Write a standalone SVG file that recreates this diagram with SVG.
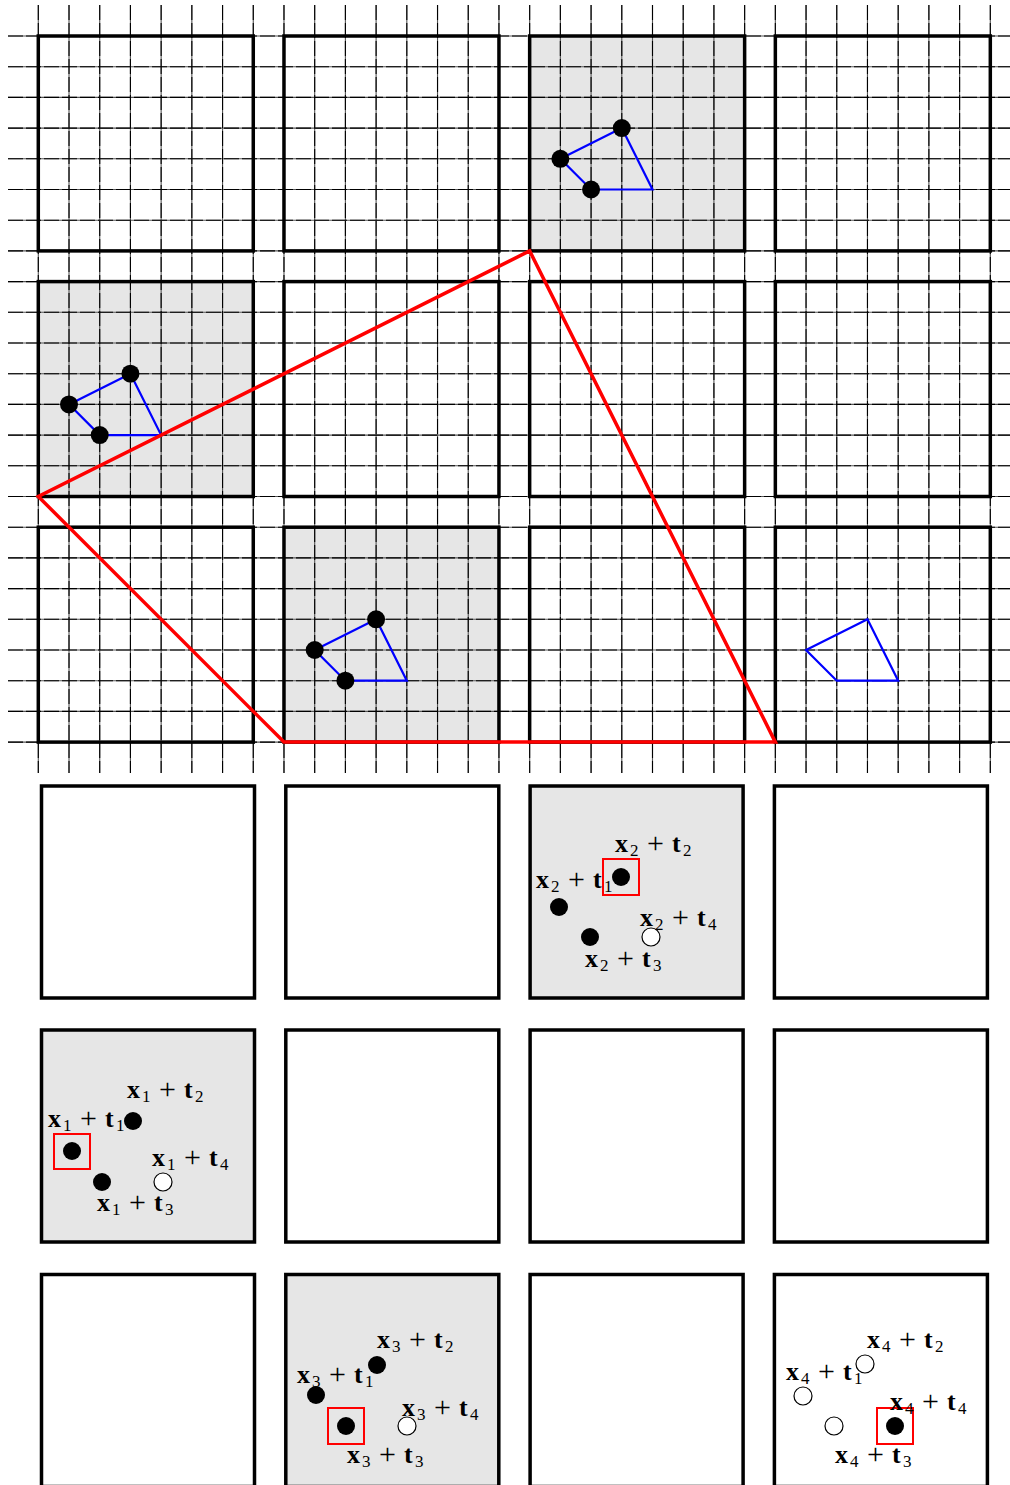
<svg xmlns="http://www.w3.org/2000/svg" width="1010" height="1485" viewBox="0 0 1010 1485">
<style>
.bg{fill:#fff}
.box{fill:none;stroke:#000;stroke-width:3.5}
.gbox{fill:#e6e6e6;stroke:#000;stroke-width:3.5}
.g{fill:#e6e6e6}
.gridbase{fill:none;stroke:#555;stroke-width:1.1}
.grid{fill:none;stroke:#000;stroke-width:1.1;stroke-dasharray:15 3}
.tri{fill:none;stroke:#f00;stroke-width:3.5;stroke-linejoin:miter}
.poly{fill:none;stroke:#00f;stroke-width:2.2}
.dot{fill:#000}
.odot{fill:#fff;stroke:#000;stroke-width:1.2}
.sel{fill:none;stroke:#f00;stroke-width:2}
.l{font-family:"Liberation Serif","Times New Roman",serif;font-size:26px;fill:#000}
.b{font-weight:bold}
.s{font-size:17px}
.p{font-size:30px}
</style>
<rect class="bg" x="0" y="0" width="1010" height="1485"/>
<g id="top-panel">
<rect class="g" x="529.66" y="36" width="214.97" height="214.9"/>
<rect class="g" x="38.3" y="281.6" width="214.97" height="214.9"/>
<rect class="g" x="283.98" y="527.2" width="214.97" height="214.9"/>
<path id="grid-base" class="gridbase" d="M38.3 5V773M69.01 5V773M99.72 5V773M130.43 5V773M161.14 5V773M191.85 5V773M222.56 5V773M253.27 5V773M283.98 5V773M314.69 5V773M345.4 5V773M376.11 5V773M406.82 5V773M437.53 5V773M468.24 5V773M498.95 5V773M529.66 5V773M560.37 5V773M591.08 5V773M621.79 5V773M652.5 5V773M683.21 5V773M713.92 5V773M744.63 5V773M775.34 5V773M806.05 5V773M836.76 5V773M867.47 5V773M898.18 5V773M928.89 5V773M959.6 5V773M990.31 5V773M8 36H1010M8 66.7H1010M8 97.4H1010M8 128.1H1010M8 158.8H1010M8 189.5H1010M8 220.2H1010M8 250.9H1010M8 281.6H1010M8 312.3H1010M8 343H1010M8 373.7H1010M8 404.4H1010M8 435.1H1010M8 465.8H1010M8 496.5H1010M8 527.2H1010M8 557.9H1010M8 588.6H1010M8 619.3H1010M8 650H1010M8 680.7H1010M8 711.4H1010M8 742.1H1010"/>
<path id="grid" class="grid" d="M38.3 5V773M69.01 5V773M99.72 5V773M130.43 5V773M161.14 5V773M191.85 5V773M222.56 5V773M253.27 5V773M283.98 5V773M314.69 5V773M345.4 5V773M376.11 5V773M406.82 5V773M437.53 5V773M468.24 5V773M498.95 5V773M529.66 5V773M560.37 5V773M591.08 5V773M621.79 5V773M652.5 5V773M683.21 5V773M713.92 5V773M744.63 5V773M775.34 5V773M806.05 5V773M836.76 5V773M867.47 5V773M898.18 5V773M928.89 5V773M959.6 5V773M990.31 5V773M8 36H1010M8 66.7H1010M8 97.4H1010M8 128.1H1010M8 158.8H1010M8 189.5H1010M8 220.2H1010M8 250.9H1010M8 281.6H1010M8 312.3H1010M8 343H1010M8 373.7H1010M8 404.4H1010M8 435.1H1010M8 465.8H1010M8 496.5H1010M8 527.2H1010M8 557.9H1010M8 588.6H1010M8 619.3H1010M8 650H1010M8 680.7H1010M8 711.4H1010M8 742.1H1010"/>
<g id="tb-r0">
<rect class="box" x="38.3" y="36" width="214.97" height="214.9"/>
<rect class="box" x="283.98" y="36" width="214.97" height="214.9"/>
<rect class="box" x="529.66" y="36" width="214.97" height="214.9"/>
<rect class="box" x="775.34" y="36" width="214.97" height="214.9"/>
</g>
<g id="tb-r1">
<rect class="box" x="38.3" y="281.6" width="214.97" height="214.9"/>
<rect class="box" x="283.98" y="281.6" width="214.97" height="214.9"/>
<rect class="box" x="529.66" y="281.6" width="214.97" height="214.9"/>
<rect class="box" x="775.34" y="281.6" width="214.97" height="214.9"/>
</g>
<g id="tb-r2">
<rect class="box" x="38.3" y="527.2" width="214.97" height="214.9"/>
<rect class="box" x="283.98" y="527.2" width="214.97" height="214.9"/>
<rect class="box" x="529.66" y="527.2" width="214.97" height="214.9"/>
<rect class="box" x="775.34" y="527.2" width="214.97" height="214.9"/>
</g>
<g id="polys">
<polygon class="poly" points="560.37,158.8 621.79,128.1 652.5,189.5 591.08,189.5"/>
<polygon class="poly" points="69.01,404.4 130.43,373.7 161.14,435.1 99.72,435.1"/>
<polygon class="poly" points="314.69,650 376.11,619.3 406.82,680.7 345.4,680.7"/>
<polygon class="poly" points="806.05,650 867.47,619.3 898.18,680.7 836.76,680.7"/>
</g>
<polygon id="triangle" class="tri" points="529.66,250.9 38.3,496.5 283.98,742.1 775.34,742.1"/>
<g id="top-dots">
<circle class="dot" cx="560.37" cy="158.8" r="9"/>
<circle class="dot" cx="621.79" cy="128.1" r="9"/>
<circle class="dot" cx="591.08" cy="189.5" r="9"/>
<circle class="dot" cx="69.01" cy="404.4" r="9"/>
<circle class="dot" cx="130.43" cy="373.7" r="9"/>
<circle class="dot" cx="99.72" cy="435.1" r="9"/>
<circle class="dot" cx="314.69" cy="650" r="9"/>
<circle class="dot" cx="376.11" cy="619.3" r="9"/>
<circle class="dot" cx="345.4" cy="680.7" r="9"/>
</g>
</g>
<g id="lower-r0">
<rect id="b00" class="box" x="41.5" y="786" width="213" height="212"/>
<rect id="b01" class="box" x="285.8" y="786" width="213" height="212"/>
<g id="b02">
<rect class="gbox" x="530.1" y="786" width="213" height="212"/>
<rect class="sel" x="603" y="859" width="36" height="36"/>
<circle class="dot" cx="621" cy="877" r="9"/>
<circle class="dot" cx="559" cy="907" r="9"/>
<circle class="dot" cx="590" cy="937" r="9"/>
<circle class="odot" cx="651" cy="937" r="9"/>
<text class="l"><tspan class="b" x="615" y="852">x</tspan><tspan class="s" x="630" y="856">2</tspan><tspan class="p" x="647" y="853">+</tspan><tspan class="b" x="672" y="852">t</tspan><tspan class="s" x="683" y="856">2</tspan></text>
<text class="l"><tspan class="b" x="536" y="888">x</tspan><tspan class="s" x="551" y="892">2</tspan><tspan class="p" x="568" y="889">+</tspan><tspan class="b" x="593" y="888">t</tspan><tspan class="s" x="604" y="892">1</tspan></text>
<text class="l"><tspan class="b" x="640" y="926">x</tspan><tspan class="s" x="655" y="930">2</tspan><tspan class="p" x="672" y="927">+</tspan><tspan class="b" x="697" y="926">t</tspan><tspan class="s" x="708" y="930">4</tspan></text>
<text class="l"><tspan class="b" x="585" y="967">x</tspan><tspan class="s" x="600" y="971">2</tspan><tspan class="p" x="617" y="968">+</tspan><tspan class="b" x="642" y="967">t</tspan><tspan class="s" x="653" y="971">3</tspan></text>
</g>
<rect id="b03" class="box" x="774.4" y="786" width="213" height="212"/>
</g>
<g id="lower-r1">
<g id="b10">
<rect class="gbox" x="41.5" y="1030" width="213" height="212"/>
<rect class="sel" x="54" y="1134" width="36" height="35"/>
<circle class="dot" cx="133" cy="1121" r="9"/>
<circle class="dot" cx="72" cy="1151" r="9"/>
<circle class="dot" cx="102" cy="1182" r="9"/>
<circle class="odot" cx="163" cy="1182" r="9"/>
<text class="l"><tspan class="b" x="127" y="1098">x</tspan><tspan class="s" x="142" y="1102">1</tspan><tspan class="p" x="159" y="1099">+</tspan><tspan class="b" x="184" y="1098">t</tspan><tspan class="s" x="195" y="1102">2</tspan></text>
<text class="l"><tspan class="b" x="48" y="1127">x</tspan><tspan class="s" x="63" y="1131">1</tspan><tspan class="p" x="80" y="1128">+</tspan><tspan class="b" x="105" y="1127">t</tspan><tspan class="s" x="116" y="1131">1</tspan></text>
<text class="l"><tspan class="b" x="152" y="1166">x</tspan><tspan class="s" x="167" y="1170">1</tspan><tspan class="p" x="184" y="1167">+</tspan><tspan class="b" x="209" y="1166">t</tspan><tspan class="s" x="220" y="1170">4</tspan></text>
<text class="l"><tspan class="b" x="97" y="1211">x</tspan><tspan class="s" x="112" y="1215">1</tspan><tspan class="p" x="129" y="1212">+</tspan><tspan class="b" x="154" y="1211">t</tspan><tspan class="s" x="165" y="1215">3</tspan></text>
</g>
<rect id="b11" class="box" x="285.8" y="1030" width="213" height="212"/>
<rect id="b12" class="box" x="530.1" y="1030" width="213" height="212"/>
<rect id="b13" class="box" x="774.4" y="1030" width="213" height="212"/>
</g>
<g id="lower-r2">
<rect id="b20" class="box" x="41.5" y="1274.5" width="213" height="212"/>
<g id="b21">
<rect class="gbox" x="285.8" y="1274.5" width="213" height="212"/>
<rect class="sel" x="328" y="1408" width="36" height="36"/>
<circle class="dot" cx="377" cy="1365" r="9"/>
<circle class="dot" cx="316" cy="1395" r="9"/>
<circle class="dot" cx="346" cy="1426" r="9"/>
<circle class="odot" cx="407" cy="1426" r="9"/>
<text class="l"><tspan class="b" x="377" y="1348">x</tspan><tspan class="s" x="392" y="1352">3</tspan><tspan class="p" x="409" y="1349">+</tspan><tspan class="b" x="434" y="1348">t</tspan><tspan class="s" x="445" y="1352">2</tspan></text>
<text class="l"><tspan class="b" x="297" y="1383">x</tspan><tspan class="s" x="312" y="1387">3</tspan><tspan class="p" x="329" y="1384">+</tspan><tspan class="b" x="354" y="1383">t</tspan><tspan class="s" x="365" y="1387">1</tspan></text>
<text class="l"><tspan class="b" x="402" y="1416">x</tspan><tspan class="s" x="417" y="1420">3</tspan><tspan class="p" x="434" y="1417">+</tspan><tspan class="b" x="459" y="1416">t</tspan><tspan class="s" x="470" y="1420">4</tspan></text>
<text class="l"><tspan class="b" x="347" y="1463">x</tspan><tspan class="s" x="362" y="1467">3</tspan><tspan class="p" x="379" y="1464">+</tspan><tspan class="b" x="404" y="1463">t</tspan><tspan class="s" x="415" y="1467">3</tspan></text>
</g>
<rect id="b22" class="box" x="530.1" y="1274.5" width="213" height="212"/>
<g id="b23">
<rect class="box" x="774.4" y="1274.5" width="213" height="212"/>
<rect class="sel" x="877" y="1408" width="36" height="36"/>
<circle class="odot" cx="865" cy="1364" r="9"/>
<circle class="odot" cx="803" cy="1396" r="9"/>
<circle class="odot" cx="834" cy="1426" r="9"/>
<circle class="dot" cx="895" cy="1426" r="9"/>
<text class="l"><tspan class="b" x="867" y="1348">x</tspan><tspan class="s" x="882" y="1352">4</tspan><tspan class="p" x="899" y="1349">+</tspan><tspan class="b" x="924" y="1348">t</tspan><tspan class="s" x="935" y="1352">2</tspan></text>
<text class="l"><tspan class="b" x="786" y="1380">x</tspan><tspan class="s" x="801" y="1384">4</tspan><tspan class="p" x="818" y="1381">+</tspan><tspan class="b" x="843" y="1380">t</tspan><tspan class="s" x="854" y="1384">1</tspan></text>
<text class="l"><tspan class="b" x="890" y="1410">x</tspan><tspan class="s" x="905" y="1414">4</tspan><tspan class="p" x="922" y="1411">+</tspan><tspan class="b" x="947" y="1410">t</tspan><tspan class="s" x="958" y="1414">4</tspan></text>
<text class="l"><tspan class="b" x="835" y="1463">x</tspan><tspan class="s" x="850" y="1467">4</tspan><tspan class="p" x="867" y="1464">+</tspan><tspan class="b" x="892" y="1463">t</tspan><tspan class="s" x="903" y="1467">3</tspan></text>
</g>
</g>
</svg>
